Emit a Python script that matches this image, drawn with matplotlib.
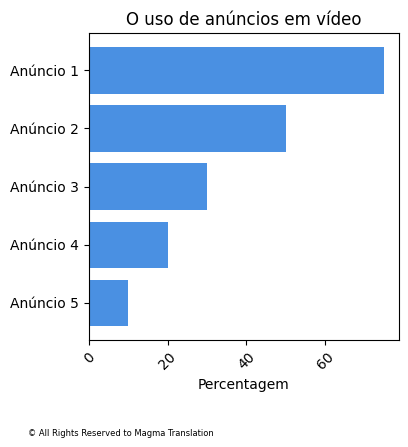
import matplotlib
matplotlib.use("Agg")
import matplotlib.pyplot as plt

categories = ["Anúncio 1", "Anúncio 2", "Anúncio 3", "Anúncio 4", "Anúncio 5"]
values = [75, 50, 30, 20, 10]

fig = plt.figure(figsize=(4.08, 4.47), dpi=100)
ax = fig.add_axes([0.218, 0.239, 0.760, 0.687])
ax.barh(categories, values, color="#4A90E2", height=0.8)
ax.invert_yaxis()
ax.set_title("O uso de anúncios em vídeo")
ax.set_xlabel("Percentagem")
ax.tick_params(axis="x", labelrotation=45)
fig.text(0.069, 0.025, "© All Rights Reserved to Magma Translation", fontsize=6)
fig.savefig("out.png", dpi=100)
